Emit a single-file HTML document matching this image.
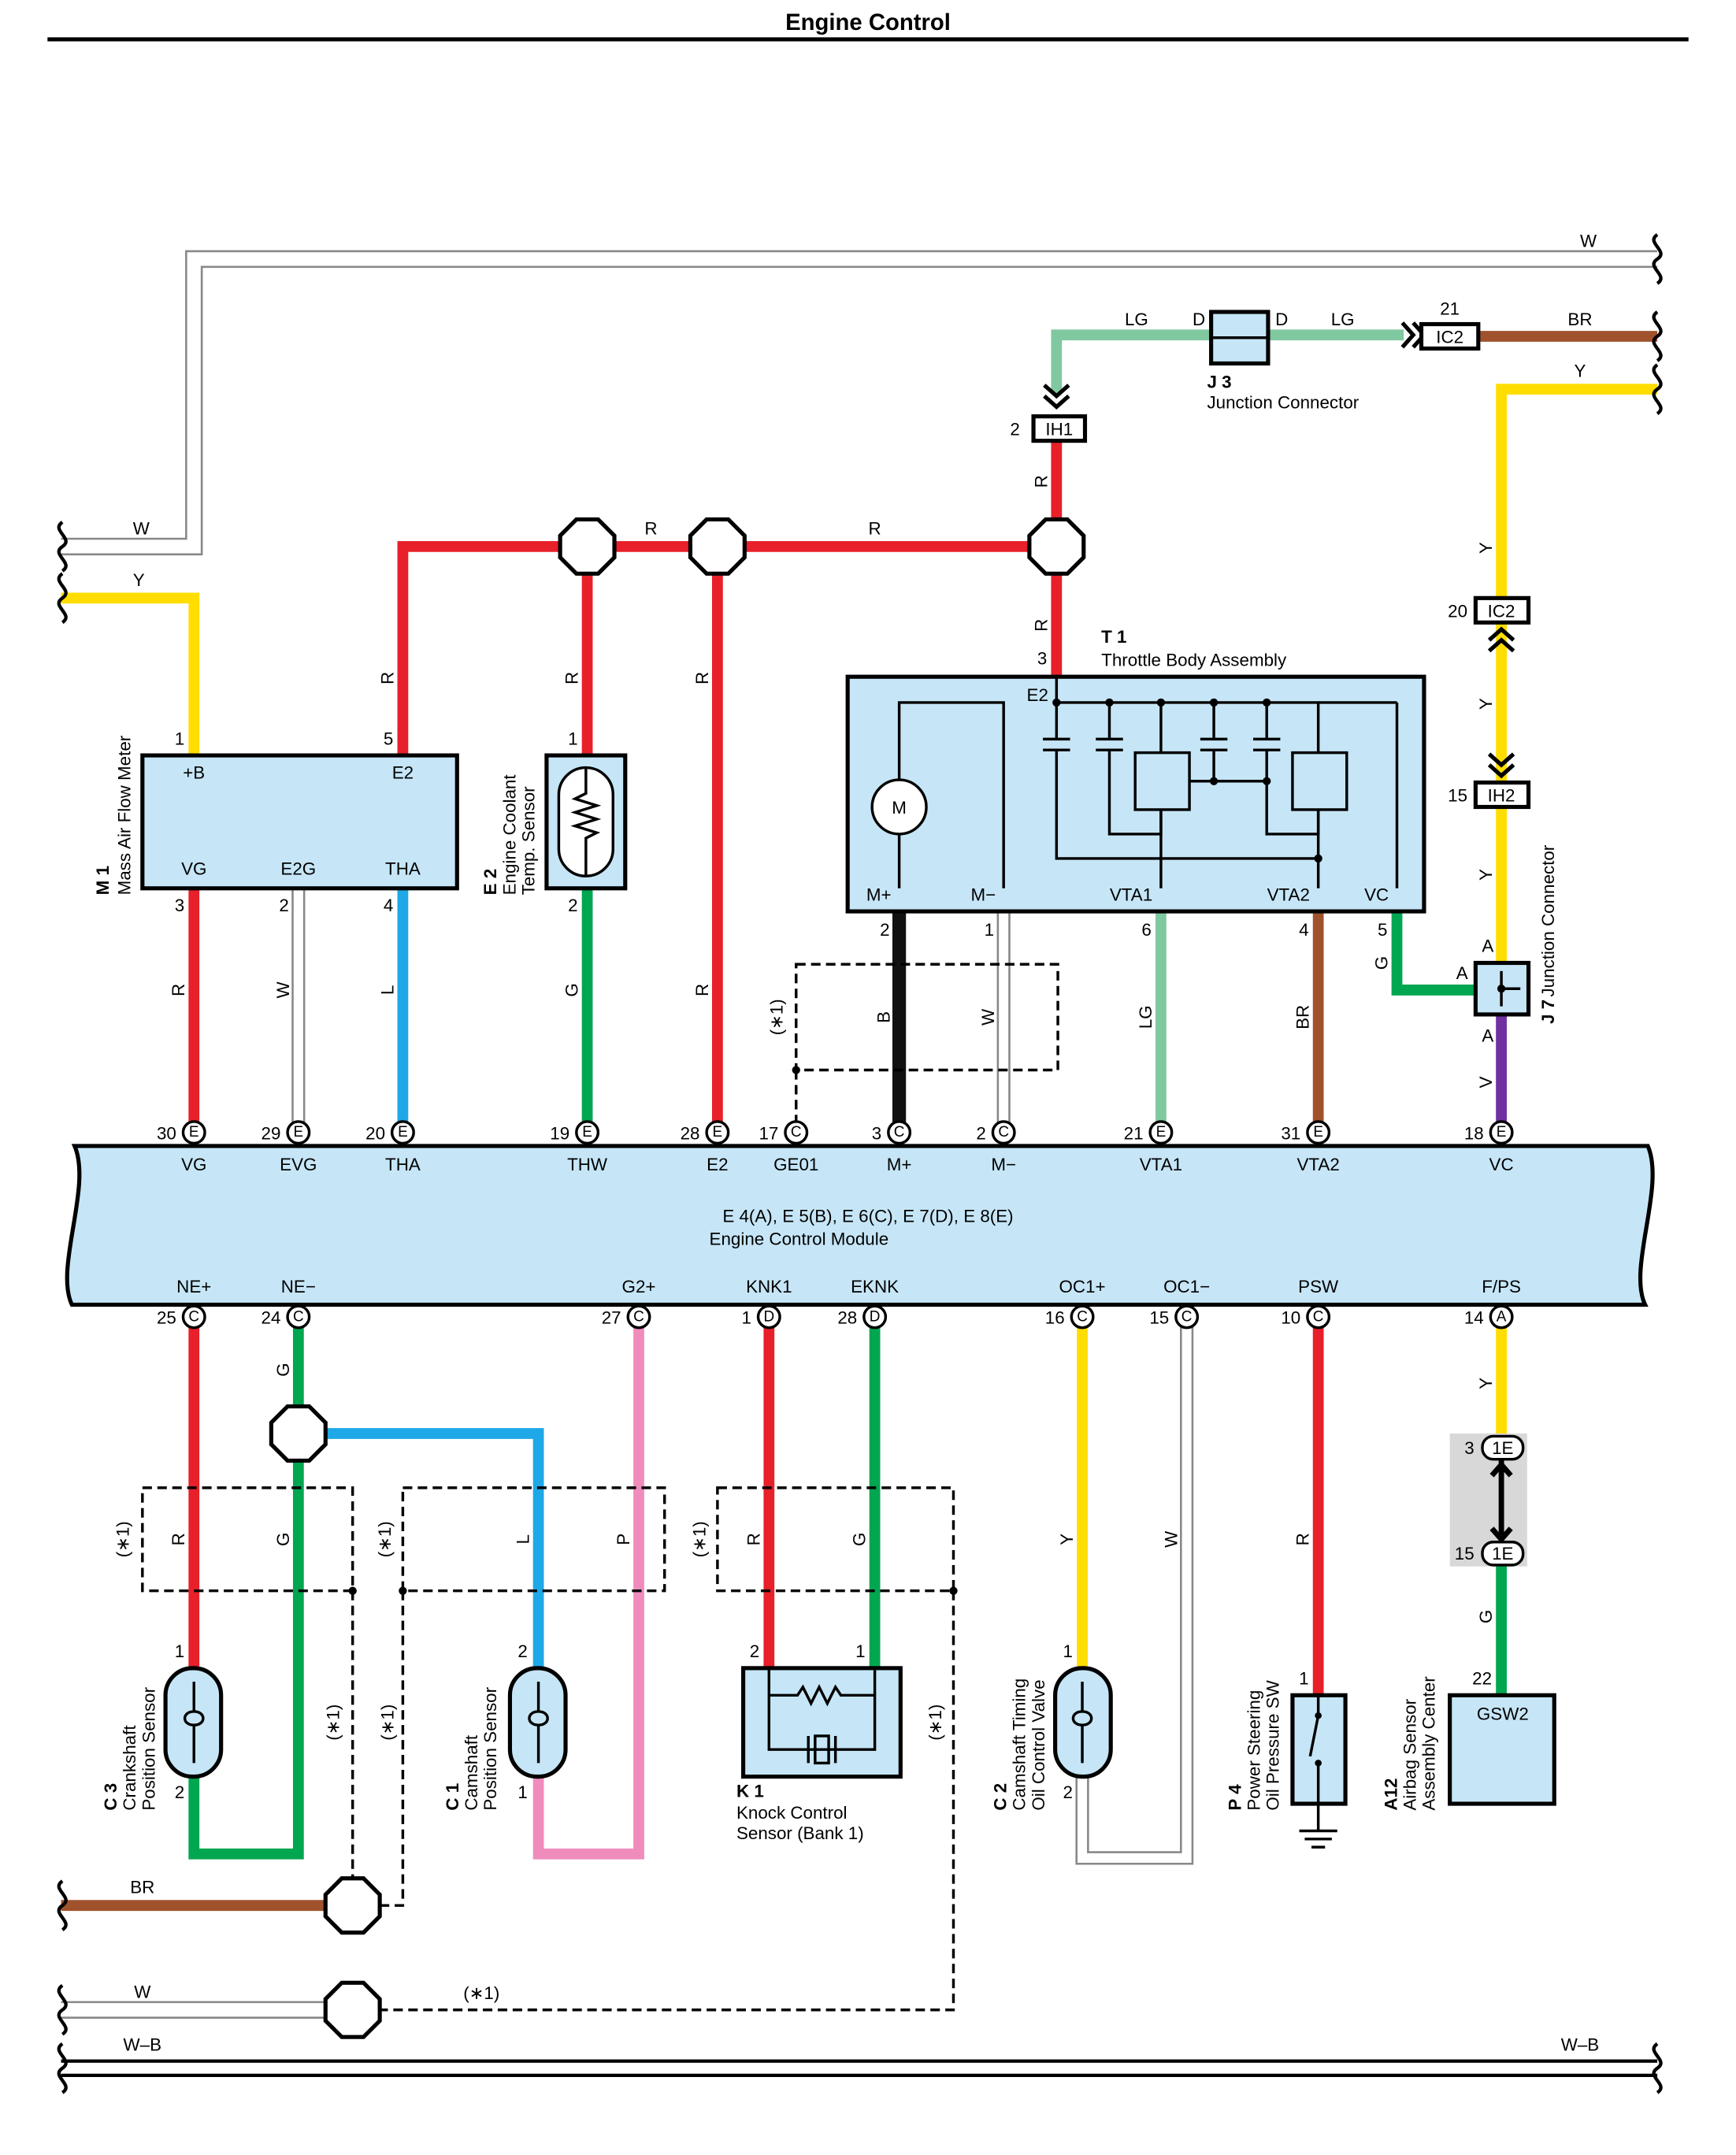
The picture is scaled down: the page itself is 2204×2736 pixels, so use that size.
<!DOCTYPE html>
<html><head><meta charset="utf-8"><style>
html,body{margin:0;padding:0;background:#fff}
svg{display:block}
text{font-family:"Liberation Sans",Arial,sans-serif;font-size:13px;fill:#000}
.t{font-size:11px;text-anchor:middle;dominant-baseline:central}
.c{text-anchor:middle}
.r{text-anchor:end}
</style></head><body>
<svg width="2204" height="2736" viewBox="0 0 1280 1589" xmlns="http://www.w3.org/2000/svg">
<defs>
<polygon id="oct" points="-8,-20 8,-20 20,-8 20,8 8,20 -8,20 -20,8 -20,-8" fill="#fff" stroke="#000" stroke-width="3"/>
<path id="wv" d="M0,-18 c-9,6 9,12 0,18 c-9,6 9,12 0,18" fill="none" stroke="#000" stroke-width="2.5"/>
<g id="chev"><path d="M-9,-6 L0,2 L9,-6 M-9,2 L0,10 L9,2" fill="none" stroke="#000" stroke-width="3"/></g>
</defs>
<rect width="1280" height="1589" fill="#fff"/>
<text x="640" y="22" class="c" style="font-weight:bold;font-size:17px">Engine Control</text>
<line x1="35" y1="29" x2="1245" y2="29" stroke="#000" stroke-width="3"/>

<!-- W top wire -->
<path d="M45,403 H143 V191 H1222" fill="none" stroke="#888" stroke-width="13"/>
<path d="M45,403 H143 V191 H1222" fill="none" stroke="#fff" stroke-width="10"/>
<text x="1165" y="182">W</text><text x="98" y="394">W</text>
<use href="#wv" x="1222" y="191"/><use href="#wv" x="46" y="403"/>

<!-- Y left -->
<path d="M45,441 H143 V557" fill="none" stroke="#ffdd00" stroke-width="8"/>
<text x="98" y="432">Y</text><use href="#wv" x="46" y="441"/>

<!-- red network -->
<path d="M297,557 V403 H779 M433,403 V557 M529,403 V835 M779,323 V499" fill="none" stroke="#e8202a" stroke-width="8"/>
<use href="#oct" x="433" y="403"/><use href="#oct" x="529" y="403"/><use href="#oct" x="779" y="403"/>
<text x="480" y="394" class="c">R</text><text x="645" y="394" class="c">R</text>

<!-- LG top -->
<path d="M779,290 V247 H1035" fill="none" stroke="#80c8a0" stroke-width="8"/>
<use href="#chev" x="779" y="290"/>
<rect x="762" y="307" width="38" height="18" fill="#fff" stroke="#000" stroke-width="3"/>
<text x="781" y="321" class="c">IH1</text><text x="752" y="321" class="r">2</text>
<rect x="893" y="230" width="42" height="38" fill="#c6e6f7" stroke="#000" stroke-width="3"/>
<line x1="893" y1="249" x2="935" y2="249" stroke="#000" stroke-width="2"/>
<text x="838" y="240" class="c">LG</text><text x="884" y="240" class="c">D</text><text x="945" y="240" class="c">D</text><text x="990" y="240" class="c">LG</text>
<text x="890" y="286" style="font-weight:bold">J 3</text><text x="890" y="301">Junction Connector</text>
<g transform="translate(1040,247) rotate(-90)"><use href="#chev"/></g>
<path d="M1090,248 H1222" stroke="#a0522d" stroke-width="8"/>
<rect x="1048" y="239" width="42" height="18" fill="#fff" stroke="#000" stroke-width="3"/>
<text x="1069" y="253" class="c">IC2</text><text x="1069" y="232" class="c">21</text>
<text x="1165" y="240" class="c">BR</text><use href="#wv" x="1222" y="248"/>

<!-- Y right -->
<path d="M1222,287 H1107 V710" fill="none" stroke="#ffdd00" stroke-width="8"/>
<text x="1165" y="278" class="c">Y</text><use href="#wv" x="1222" y="287"/>
<rect x="1088" y="441" width="39" height="18" fill="#fff" stroke="#000" stroke-width="3"/>
<text x="1107" y="455" class="c">IC2</text><text x="1082" y="455" class="r">20</text>
<g transform="translate(1107,474) rotate(180)"><use href="#chev"/></g>
<use href="#chev" x="1107" y="562"/>
<rect x="1088" y="577" width="39" height="18" fill="#fff" stroke="#000" stroke-width="3"/>
<text x="1107" y="591" class="c">IH2</text><text x="1082" y="591" class="r">15</text>
<path d="M1107,748 V835" stroke="#7030a0" stroke-width="8"/>
<path d="M1030,672 V730 H1088" fill="none" stroke="#00a650" stroke-width="8"/>
<rect x="1088" y="710" width="39" height="38" fill="#c6e6f7" stroke="#000" stroke-width="3"/>
<path d="M1107,716 V742 M1107,729 H1121" stroke="#000" stroke-width="2"/><circle cx="1107" cy="729" r="3"/>
<text x="1097" y="702" class="c">A</text><text x="1078" y="722" class="c">A</text><text x="1097" y="768" class="c">A</text>
<g transform="translate(1146,755) rotate(-90)"><text style="font-weight:bold">J 7</text><text x="20">Junction Connector</text></g>

<!-- M1 -->
<path d="M143,655 V835" stroke="#e8202a" stroke-width="8"/>
<path d="M220,655 V835" stroke="#888" stroke-width="10"/><path d="M220,655 V835" stroke="#fff" stroke-width="7"/>
<path d="M297,655 V835" stroke="#1ea8e8" stroke-width="8"/>
<rect x="105" y="557" width="232" height="98" fill="#c6e6f7" stroke="#000" stroke-width="3"/>
<text x="143" y="574" class="c">+B</text><text x="297" y="574" class="c">E2</text>
<text x="143" y="645" class="c">VG</text><text x="220" y="645" class="c">E2G</text><text x="297" y="645" class="c">THA</text>
<text x="136" y="549" class="r">1</text><text x="290" y="549" class="r">5</text>
<text x="136" y="672" class="r">3</text><text x="213" y="672" class="r">2</text><text x="290" y="672" class="r">4</text>
<g transform="translate(80,660) rotate(-90)"><text style="font-weight:bold">M 1</text><text y="16">Mass Air Flow Meter</text></g>

<!-- E2 sensor -->
<path d="M433,655 V835" stroke="#00a650" stroke-width="8"/>
<rect x="403" y="557" width="58" height="98" fill="#c6e6f7" stroke="#000" stroke-width="3"/>
<rect x="412" y="566" width="40" height="80" rx="20" fill="#fff" stroke="#000" stroke-width="2"/>
<path d="M432,566 V585 l-8,4 16,5 -16,5 16,5 -16,5 16,5 -8,4 V646" fill="none" stroke="#000" stroke-width="2"/>
<text x="426" y="549" class="r">1</text><text x="426" y="672" class="r">2</text>
<g transform="translate(366,660) rotate(-90)"><text style="font-weight:bold">E 2</text><text y="14">Engine Coolant</text><text y="28">Temp.  Sensor</text></g>

<!-- T1 -->
<path d="M663,672 V835" stroke="#111" stroke-width="10"/>
<path d="M740,672 V835" stroke="#888" stroke-width="10"/><path d="M740,672 V835" stroke="#fff" stroke-width="7"/>
<path d="M856,672 V835" stroke="#80c8a0" stroke-width="8"/>
<path d="M972,672 V835" stroke="#a0522d" stroke-width="8"/>
<rect x="625" y="499" width="425" height="173" fill="#c6e6f7" stroke="#000" stroke-width="3"/>
<g fill="none" stroke="#000" stroke-width="2">
<path d="M663,655 V518 H740 V655"/>
<circle cx="663" cy="595" r="20" fill="#fff"/>
<path d="M779,499 V518 H972 V555"/>
<path d="M779,518 V545 M769,545 H789 M769,553 H789 M779,553 V633 H972 V597"/>
<path d="M818,518 V545 M808,545 H828 M808,553 H828 M818,553 V615 H856 V597"/>
<path d="M856,518 V555 M895,518 V545 M885,545 H905 M885,553 H905 M895,553 V576 H934"/>
<path d="M934,518 V545 M924,545 H944 M924,553 H944 M934,553 V615 H972 V597 M877,576 H895"/>
<path d="M856,597 V655 M972,633 V655 M1030,518 V655 M972,518 H1030"/>
<rect x="837" y="555" width="40" height="42" fill="#c6e6f7"/><rect x="953" y="555" width="40" height="42" fill="#c6e6f7"/>
</g>
<g fill="#000"><circle cx="779" cy="518" r="3"/><circle cx="818" cy="518" r="3"/><circle cx="856" cy="518" r="3"/><circle cx="895" cy="518" r="3"/><circle cx="934" cy="518" r="3"/><circle cx="895" cy="576" r="3"/><circle cx="934" cy="576" r="3"/><circle cx="972" cy="633" r="3"/></g>
<text x="663" y="600" class="c">M</text>
<text x="765" y="517" class="c">E2</text><text x="772" y="490" class="r">3</text>
<text x="648" y="664" class="c">M+</text><text x="725" y="664" class="c">M−</text><text x="834" y="664" class="c">VTA1</text><text x="950" y="664" class="c">VTA2</text><text x="1015" y="664" class="c">VC</text>
<text x="656" y="690" class="r">2</text><text x="733" y="690" class="r">1</text><text x="849" y="690" class="r">6</text><text x="965" y="690" class="r">4</text><text x="1023" y="690" class="r">5</text>
<text x="812" y="474" style="font-weight:bold">T 1</text><text x="812" y="491">Throttle Body Assembly</text>
<rect x="587" y="711" width="193" height="78" fill="none" stroke="#000" stroke-width="2" stroke-dasharray="7,4"/>
<path d="M587,789 V835" stroke="#000" stroke-width="2" stroke-dasharray="7,4"/><circle cx="587" cy="789" r="3"/>

<!-- vertical wire labels -->
<g style="font-size:13px" text-anchor="middle">
<text transform="translate(772,355) rotate(-90)">R</text><text transform="translate(772,461) rotate(-90)">R</text>
<text transform="translate(290,500) rotate(-90)">R</text><text transform="translate(426,500) rotate(-90)">R</text><text transform="translate(522,500) rotate(-90)">R</text>
<text transform="translate(136,730) rotate(-90)">R</text><text transform="translate(213,730) rotate(-90)">W</text><text transform="translate(290,730) rotate(-90)">L</text>
<text transform="translate(426,730) rotate(-90)">G</text><text transform="translate(522,730) rotate(-90)">R</text><text transform="translate(577,750) rotate(-90)">(∗1)</text>
<text transform="translate(656,750) rotate(-90)">B</text><text transform="translate(733,750) rotate(-90)">W</text><text transform="translate(849,750) rotate(-90)">LG</text>
<text transform="translate(965,750) rotate(-90)">BR</text><text transform="translate(1023,710) rotate(-90)">G</text>
<text transform="translate(1100,404) rotate(-90)">Y</text><text transform="translate(1100,519) rotate(-90)">Y</text><text transform="translate(1100,645) rotate(-90)">Y</text><text transform="translate(1100,798) rotate(-90)">V</text>
<text transform="translate(213,1010) rotate(-90)">G</text><text transform="translate(1100,1020) rotate(-90)">Y</text>
<text transform="translate(136,1135) rotate(-90)">R</text><text transform="translate(213,1135) rotate(-90)">G</text><text transform="translate(95,1135) rotate(-90)">(∗1)</text>
<text transform="translate(390,1135) rotate(-90)">L</text><text transform="translate(464,1135) rotate(-90)">P</text><text transform="translate(288,1135) rotate(-90)">(∗1)</text>
<text transform="translate(560,1135) rotate(-90)">R</text><text transform="translate(638,1135) rotate(-90)">G</text><text transform="translate(520,1135) rotate(-90)">(∗1)</text>
<text transform="translate(791,1135) rotate(-90)">Y</text><text transform="translate(868,1135) rotate(-90)">W</text><text transform="translate(965,1135) rotate(-90)">R</text>
<text transform="translate(1100,1192) rotate(-90)">G</text>
<text transform="translate(250,1270) rotate(-90)">(∗1)</text><text transform="translate(290,1270) rotate(-90)">(∗1)</text><text transform="translate(694,1270) rotate(-90)">(∗1)</text>
</g>

<!-- ECM -->
<path d="M55,845 H1215 C1228,875 1200,935 1213,962 H53 C40,935 68,875 55,845 Z" fill="#c6e6f7" stroke="#000" stroke-width="3"/>
<text x="640" y="901" class="c">E 4(A), E 5(B), E 6(C), E 7(D), E 8(E)</text>
<text x="523" y="918">Engine Control Module</text>

<!-- bottom wires -->
<path d="M143,971 V1230" stroke="#e8202a" stroke-width="8"/>
<path d="M143,1310 V1367 H220 V971" fill="none" stroke="#00a650" stroke-width="8"/>
<path d="M220,1057 H397 V1230" fill="none" stroke="#1ea8e8" stroke-width="8"/>
<path d="M397,1310 V1367 H471 V971" fill="none" stroke="#f08cbc" stroke-width="8"/>
<use href="#oct" x="220" y="1057"/>
<path d="M567,971 V1230" stroke="#e8202a" stroke-width="8"/>
<path d="M645,971 V1230" stroke="#00a650" stroke-width="8"/>
<path d="M798,971 V1230" stroke="#ffdd00" stroke-width="8"/>
<path d="M875,971 V1370 H798 V1310" fill="none" stroke="#888" stroke-width="10"/><path d="M875,971 V1370 H798 V1310" fill="none" stroke="#fff" stroke-width="7"/>
<path d="M972,971 V1250" stroke="#e8202a" stroke-width="8"/>
<path d="M1107,971 V1060" stroke="#ffdd00" stroke-width="8"/>
<path d="M1107,1150 V1250" stroke="#00a650" stroke-width="8"/>

<!-- dashed -->
<g fill="none" stroke="#000" stroke-width="2" stroke-dasharray="7,4">
<rect x="105" y="1097" width="155" height="76"/><rect x="297" y="1097" width="193" height="76"/><rect x="529" y="1097" width="174" height="76"/>
<path d="M260,1173 V1385 M297,1173 V1405 H280 M703,1173 V1482 H280"/>
</g>
<g fill="#000"><circle cx="260" cy="1173" r="3"/><circle cx="297" cy="1173" r="3"/><circle cx="703" cy="1173" r="3"/></g>
<text x="355" y="1474" class="c">(∗1)</text>

<!-- BR / W / W-B bottom -->
<path d="M45,1405 H240" stroke="#a0522d" stroke-width="8"/><use href="#oct" x="260" y="1405"/>
<text x="105" y="1396" class="c">BR</text><use href="#wv" x="46" y="1405"/>
<path d="M45,1482 H240" stroke="#888" stroke-width="13"/><path d="M45,1482 H240" stroke="#fff" stroke-width="10"/>
<use href="#oct" x="260" y="1482"/><text x="105" y="1473" class="c">W</text><use href="#wv" x="46" y="1482"/>
<path d="M45,1525 H1222" stroke="#000" stroke-width="13"/><path d="M45,1525 H1222" stroke="#fff" stroke-width="8"/>
<text x="105" y="1512" class="c">W–B</text><text x="1165" y="1512" class="c">W–B</text>
<use href="#wv" x="46" y="1525"/><use href="#wv" x="1222" y="1525"/>

<!-- C3 -->
<rect x="122" y="1230" width="41" height="80" rx="20" fill="#c6e6f7" stroke="#000" stroke-width="3"/>
<path d="M143,1240 V1262 c-9,0 -9,10 0,10 c9,0 9,-10 0,-10 M143,1272 V1300" fill="none" stroke="#000" stroke-width="2"/>
<text x="136" y="1222" class="r">1</text><text x="136" y="1326" class="r">2</text>
<g transform="translate(86,1335) rotate(-90)"><text style="font-weight:bold">C 3</text><text y="14">Crankshaft</text><text y="28">Position Sensor</text></g>
<!-- C1 -->
<rect x="376" y="1230" width="41" height="80" rx="20" fill="#c6e6f7" stroke="#000" stroke-width="3"/>
<path d="M397,1240 V1262 c-9,0 -9,10 0,10 c9,0 9,-10 0,-10 M397,1272 V1300" fill="none" stroke="#000" stroke-width="2"/>
<text x="389" y="1222" class="r">2</text><text x="389" y="1326" class="r">1</text>
<g transform="translate(338,1335) rotate(-90)"><text style="font-weight:bold">C 1</text><text y="14">Camshaft</text><text y="28">Position Sensor</text></g>
<!-- K1 -->
<rect x="548" y="1230" width="116" height="80" fill="#c6e6f7" stroke="#000" stroke-width="3"/>
<g fill="none" stroke="#000" stroke-width="2"><path d="M567,1230 V1290 H645 V1230 M567,1250 H588 l4,-6 6,12 6,-12 6,12 6,-12 4,6 H645 M567,1290 H596 M616,1290 H645"/><rect x="601" y="1280" width="10" height="20"/><path d="M596,1280 V1300 M616,1280 V1300"/></g>
<text x="560" y="1222" class="r">2</text><text x="638" y="1222" class="r">1</text>
<text x="543" y="1325" style="font-weight:bold">K 1</text><text x="543" y="1341">Knock Control</text><text x="543" y="1356">Sensor (Bank 1)</text>
<!-- C2 -->
<rect x="778" y="1230" width="41" height="80" rx="20" fill="#c6e6f7" stroke="#000" stroke-width="3"/>
<path d="M798,1240 V1262 c-9,0 -9,10 0,10 c9,0 9,-10 0,-10 M798,1272 V1300" fill="none" stroke="#000" stroke-width="2"/>
<text x="791" y="1222" class="r">1</text><text x="791" y="1326" class="r">2</text>
<g transform="translate(742,1335) rotate(-90)"><text style="font-weight:bold">C 2</text><text y="14">Camshaft Timing</text><text y="28">Oil Control Valve</text></g>
<!-- P4 -->
<rect x="953" y="1250" width="39" height="80" fill="#c6e6f7" stroke="#000" stroke-width="3"/>
<path d="M972,1250 V1265 L966,1295 M972,1300 V1350 M958,1350 H986 M962,1356 H982 M967,1362 H977" fill="none" stroke="#000" stroke-width="2"/>
<circle cx="972" cy="1265" r="2.5"/><circle cx="972" cy="1300" r="2.5"/>
<text x="965" y="1242" class="r">1</text>
<g transform="translate(915,1335) rotate(-90)"><text style="font-weight:bold">P 4</text><text y="14">Power Steering</text><text y="28">Oil Pressure SW</text></g>
<!-- A12 -->
<rect x="1069" y="1057" width="57" height="98" fill="#d8d8d8"/>
<path d="M1107,1075 V1138" stroke="#000" stroke-width="4"/>
<path d="M1100,1088 L1107,1080 L1114,1088 M1100,1127 L1107,1135 L1114,1127" stroke="#000" stroke-width="4" fill="none"/>
<rect x="1093" y="1059" width="30" height="17" rx="8" fill="#fff" stroke="#000" stroke-width="2"/><text x="1108" y="1072" class="c">1E</text>
<rect x="1093" y="1137" width="30" height="17" rx="8" fill="#fff" stroke="#000" stroke-width="2"/><text x="1108" y="1150" class="c">1E</text>
<text x="1087" y="1072" class="r">3</text><text x="1087" y="1150" class="r">15</text>
<rect x="1069" y="1250" width="77" height="80" fill="#c6e6f7" stroke="#000" stroke-width="3"/>
<text x="1108" y="1268" class="c">GSW2</text><text x="1100" y="1242" class="r">22</text>
<g transform="translate(1030,1335) rotate(-90)"><text style="font-weight:bold">A12</text><text y="14">Airbag Sensor</text><text y="28">Assembly Center</text></g>

<!-- terminals top -->
<g>
<g stroke="#000" stroke-width="2" fill="#fff">
<circle cx="143" cy="835" r="8"/><circle cx="220" cy="835" r="8"/><circle cx="297" cy="835" r="8"/><circle cx="433" cy="835" r="8"/><circle cx="529" cy="835" r="8"/><circle cx="587" cy="835" r="8"/><circle cx="663" cy="835" r="8"/><circle cx="740" cy="835" r="8"/><circle cx="856" cy="835" r="8"/><circle cx="972" cy="835" r="8"/><circle cx="1107" cy="835" r="8"/>
<circle cx="143" cy="971" r="8"/><circle cx="220" cy="971" r="8"/><circle cx="471" cy="971" r="8"/><circle cx="567" cy="971" r="8"/><circle cx="645" cy="971" r="8"/><circle cx="798" cy="971" r="8"/><circle cx="875" cy="971" r="8"/><circle cx="972" cy="971" r="8"/><circle cx="1107" cy="971" r="8"/>
</g>
<text class="t" x="143" y="835">E</text><text class="t" x="220" y="835">E</text><text class="t" x="297" y="835">E</text><text class="t" x="433" y="835">E</text><text class="t" x="529" y="835">E</text><text class="t" x="587" y="835">C</text><text class="t" x="663" y="835">C</text><text class="t" x="740" y="835">C</text><text class="t" x="856" y="835">E</text><text class="t" x="972" y="835">E</text><text class="t" x="1107" y="835">E</text>
<text class="t" x="143" y="971">C</text><text class="t" x="220" y="971">C</text><text class="t" x="471" y="971">C</text><text class="t" x="567" y="971">D</text><text class="t" x="645" y="971">D</text><text class="t" x="798" y="971">C</text><text class="t" x="875" y="971">C</text><text class="t" x="972" y="971">C</text><text class="t" x="1107" y="971">A</text>
</g>
<g class="r">
<text x="130" y="840" class="r">30</text><text x="207" y="840" class="r">29</text><text x="284" y="840" class="r">20</text><text x="420" y="840" class="r">19</text><text x="516" y="840" class="r">28</text><text x="574" y="840" class="r">17</text><text x="650" y="840" class="r">3</text><text x="727" y="840" class="r">2</text><text x="843" y="840" class="r">21</text><text x="959" y="840" class="r">31</text><text x="1094" y="840" class="r">18</text>
<text x="130" y="976" class="r">25</text><text x="207" y="976" class="r">24</text><text x="458" y="976" class="r">27</text><text x="554" y="976" class="r">1</text><text x="632" y="976" class="r">28</text><text x="785" y="976" class="r">16</text><text x="862" y="976" class="r">15</text><text x="959" y="976" class="r">10</text><text x="1094" y="976" class="r">14</text>
</g>
<text x="143" y="863" class="c">VG</text><text x="220" y="863" class="c">EVG</text><text x="297" y="863" class="c">THA</text><text x="433" y="863" class="c">THW</text><text x="529" y="863" class="c">E2</text><text x="587" y="863" class="c">GE01</text><text x="663" y="863" class="c">M+</text><text x="740" y="863" class="c">M−</text><text x="856" y="863" class="c">VTA1</text><text x="972" y="863" class="c">VTA2</text><text x="1107" y="863" class="c">VC</text>
<text x="143" y="953" class="c">NE+</text><text x="220" y="953" class="c">NE−</text><text x="471" y="953" class="c">G2+</text><text x="567" y="953" class="c">KNK1</text><text x="645" y="953" class="c">EKNK</text><text x="798" y="953" class="c">OC1+</text><text x="875" y="953" class="c">OC1−</text><text x="972" y="953" class="c">PSW</text><text x="1107" y="953" class="c">F/PS</text>
</svg>
</body></html>
